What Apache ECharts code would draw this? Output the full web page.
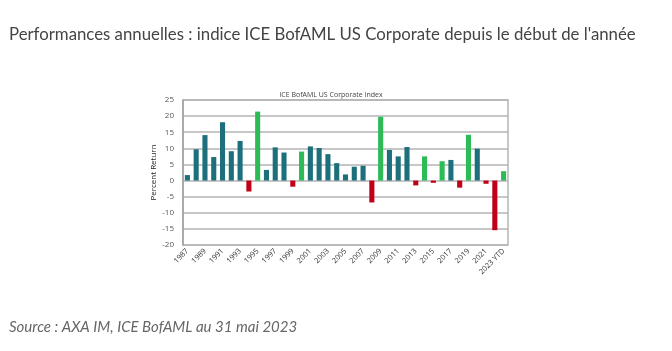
<!DOCTYPE html>
<html lang="fr">
<head>
<meta charset="UTF-8">
<title>ICE BofAML US Corporate</title>
<script src="https://cdn.jsdelivr.net/npm/echarts@6/dist/echarts.min.js"></script>
<style>
  body { margin: 0; background: #fff; }
  #main { width: 672px; height: 351px; }
</style>
</head>
<body>
<div id="main"></div>
<script>
    var years = ['1987','1988','1989','1990','1991','1992','1993','1994','1995','1996',
        '1997','1998','1999','2000','2001','2002','2003','2004','2005','2006',
        '2007','2008','2009','2010','2011','2012','2013','2014','2015','2016',
        '2017','2018','2019','2020','2021','2022','2023 YTD'];
    var returns = [1.7, 9.7, 14.1, 7.3, 18.1, 9.1, 12.3, -3.4, 21.4, 3.3,
        10.3, 8.7, -1.9, 9.0, 10.6, 10.1, 8.2, 5.4, 1.9, 4.3,
        4.6, -6.8, 19.8, 9.5, 7.5, 10.4, -1.5, 7.5, -0.7, 6.0,
        6.4, -2.2, 14.2, 9.9, -1.0, -15.4, 2.9];
    // years drawn in light green in the source chart
    var highlighted = ['1995', '2000', '2009', '2014', '2016', '2019', '2023 YTD'];

    var barData = returns.map(function (v, i) {
        var c = '#1c6f7b';
        if (v < 0) c = '#c00018';
        else if (highlighted.indexOf(years[i]) >= 0) c = '#2dbb57';
        return { value: v, itemStyle: { color: c } };
    });

    var chart = echarts.init(document.getElementById('main'));
    chart.setOption({
        backgroundColor: '#fff',
        animation: false,
        title: [{
            text: "Performances annuelles : indice ICE BofAML US Corporate depuis le début de l'année",
            left: 4, top: 21,
            textStyle: { fontFamily: 'Lato', fontSize: 16.8, fontWeight: 'normal', color: '#444' }
        }, {
            text: 'ICE BofAML US Corporate Index',
            left: 326, top: 86, textAlign: 'center',
            textStyle: { fontFamily: 'Open Sans', fontSize: 7, fontWeight: 'normal', color: '#444' }
        }, {
            text: 'Source : AXA IM, ICE BofAML au 31 mai 2023',
            left: 4, top: 315,
            textStyle: { fontFamily: 'Lato', fontSize: 15, fontStyle: 'italic', fontWeight: 'normal', color: '#666' }
        }],
        grid: { left: 183, right: 164, top: 100, bottom: 106, show: true, borderColor: '#b5b5b5', borderWidth: 1.5 },
        xAxis: {
            type: 'category',
            data: years,
            axisLine: { show: false },
            axisTick: { show: false },
            axisLabel: {
                interval: 1, rotate: 45, fontSize: 7.5, color: '#333', margin: 5,
                fontFamily: 'Open Sans'
            }
        },
        yAxis: {
            type: 'value',
            min: -20, max: 25, interval: 5,
            name: 'Percent Return',
            nameLocation: 'middle',
            nameGap: 25,
            nameTextStyle: { fontSize: 8, color: '#222', fontFamily: 'Open Sans' },
            axisLine: { show: true, lineStyle: { color: '#a0a0a0', width: 1.5 } },
            axisTick: { show: false },
            axisLabel: { fontSize: 8, color: '#555', margin: 9, fontFamily: 'Open Sans' },
            splitLine: { lineStyle: { color: '#b5b5b5', width: 1.5 } }
        },
        series: [{
            type: 'bar',
            data: barData,
            barWidth: '58%'
        }]
    });
</script>
</body>
</html>
